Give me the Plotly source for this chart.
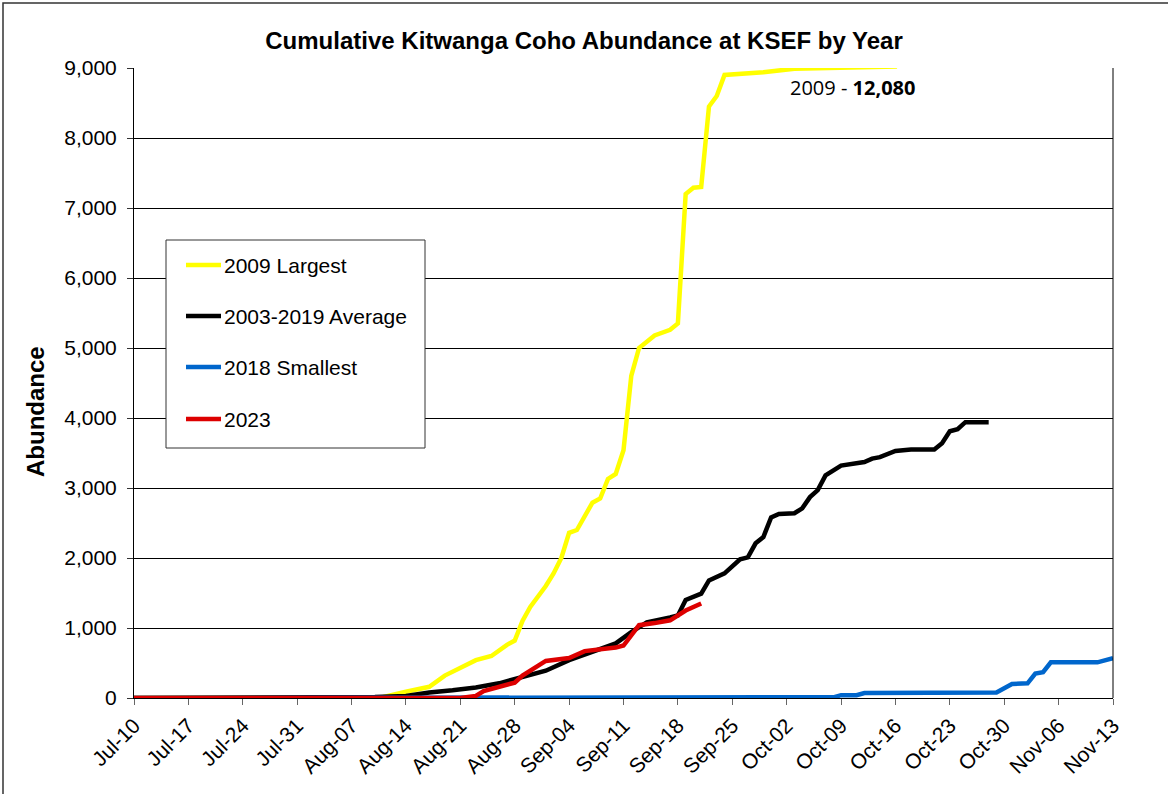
import plotly.graph_objects as go

# ---------------- data ----------------
tick_dates = ["2023-07-10", "2023-07-17", "2023-07-24", "2023-07-31", "2023-08-07",
              "2023-08-14", "2023-08-21", "2023-08-28", "2023-09-04", "2023-09-11",
              "2023-09-18", "2023-09-25", "2023-10-02", "2023-10-09", "2023-10-16",
              "2023-10-23", "2023-10-30", "2023-11-06", "2023-11-13"]
tick_labels = ["Jul-10", "Jul-17", "Jul-24", "Jul-31", "Aug-07", "Aug-14", "Aug-21",
               "Aug-28", "Sep-04", "Sep-11", "Sep-18", "Sep-25", "Oct-02", "Oct-09",
               "Oct-16", "Oct-23", "Oct-30", "Nov-06", "Nov-13"]

y2009_dates = ["2023-07-10", "2023-08-07", "2023-08-11", "2023-08-14", "2023-08-17",
               "2023-08-19", "2023-08-21", "2023-08-23", "2023-08-25", "2023-08-27",
               "2023-08-28", "2023-08-29", "2023-08-30", "2023-09-01", "2023-09-02",
               "2023-09-03", "2023-09-04", "2023-09-05", "2023-09-07", "2023-09-08",
               "2023-09-09", "2023-09-10", "2023-09-11", "2023-09-12", "2023-09-13",
               "2023-09-15", "2023-09-17", "2023-09-18", "2023-09-19", "2023-09-20",
               "2023-09-21", "2023-09-22", "2023-09-23", "2023-09-24", "2023-09-29",
               "2023-10-03", "2023-10-16", "2023-10-23", "2023-11-13"]
y2009_vals = [0, 0, 10, 90, 160, 320, 430, 540, 600, 760, 820, 1100, 1300, 1600, 1780,
              2000, 2360, 2400, 2790, 2850, 3130, 3200, 3540, 4600, 5000, 5180, 5260,
              5350, 7200, 7290, 7300, 8450, 8600, 8900, 8940, 8990, 9020, 10500, 12080]

avg_dates = ["2023-07-10", "2023-08-07", "2023-08-10", "2023-08-14", "2023-08-17",
             "2023-08-20", "2023-08-23", "2023-08-26", "2023-08-28", "2023-09-01",
             "2023-09-04", "2023-09-10", "2023-09-12", "2023-09-14", "2023-09-17",
             "2023-09-18", "2023-09-19", "2023-09-21", "2023-09-22", "2023-09-24",
             "2023-09-26", "2023-09-27", "2023-09-28", "2023-09-29", "2023-09-30",
             "2023-10-01", "2023-10-03", "2023-10-04", "2023-10-05", "2023-10-06",
             "2023-10-07", "2023-10-09", "2023-10-12", "2023-10-13", "2023-10-14",
             "2023-10-16", "2023-10-18", "2023-10-21", "2023-10-22", "2023-10-23",
             "2023-10-24", "2023-10-25", "2023-10-28"]
avg_vals = [0, 5, 15, 30, 80, 110, 150, 210, 270, 390, 540, 780, 940, 1080, 1150, 1180,
            1400, 1490, 1680, 1780, 1980, 2010, 2210, 2300, 2580, 2630, 2640, 2710, 2870,
            2970, 3180, 3320, 3370, 3420, 3440, 3530, 3550, 3550, 3640, 3810, 3840, 3940,
            3940]

y2018_dates = ["2023-07-10", "2023-10-08", "2023-10-09", "2023-10-11", "2023-10-12",
               "2023-10-19", "2023-10-20", "2023-10-29", "2023-10-31", "2023-11-02",
               "2023-11-03", "2023-11-04", "2023-11-05", "2023-11-11", "2023-11-13"]
y2018_vals = [0, 10, 40, 40, 70, 70, 80, 80, 200, 210, 350, 370, 510, 510, 570]

y2023_dates = ["2023-07-10", "2023-08-21", "2023-08-23", "2023-08-24", "2023-08-28",
               "2023-08-29", "2023-09-01", "2023-09-04", "2023-09-06", "2023-09-10",
               "2023-09-11", "2023-09-13", "2023-09-15", "2023-09-17", "2023-09-19",
               "2023-09-21"]
y2023_vals = [0, 0, 30, 100, 220, 320, 530, 570, 670, 720, 750, 1040, 1070, 1110, 1250,
              1350]

series = [
    ("2009 Largest", y2009_dates, y2009_vals, "#FFFF00"),
    ("2003-2019 Average", avg_dates, avg_vals, "#000000"),
    ("2018 Smallest", y2018_dates, y2018_vals, "#0066CC"),
    ("2023", y2023_dates, y2023_vals, "#DD0000"),
]

# ---------------- figure ----------------
W, H = 1168, 794
L, T = 134, 68
PW, PH = 979, 630
R, B = W - L - PW, H - T - PH


def px2x(px):
    return (px - L) / PW


def py2y(py):
    return (T + PH - py) / PH


fig = go.Figure()
for name, xs, ys, col in series:
    fig.add_trace(go.Scatter(x=xs, y=ys, mode="lines", name=name,
                             line=dict(color=col, width=4.5), showlegend=False))

fig.update_layout(
    width=W, height=H,
    margin=dict(l=L, r=R, t=T, b=B, pad=0),
    paper_bgcolor="white", plot_bgcolor="white",
    font=dict(family="Arial, Liberation Sans, sans-serif", color="black", size=21),
    title=dict(text="<b>Cumulative Kitwanga Coho Abundance at KSEF by Year</b>",
               x=0.5, xanchor="center", y=1 - 41 / H, yanchor="middle",
               font=dict(size=24)),
    xaxis=dict(type="date", range=[tick_dates[0], tick_dates[-1]],
               tickvals=tick_dates, ticktext=tick_labels, tickangle=-45,
               ticks="outside", ticklen=6, tickcolor="#666666",
               showline=True, linecolor="black", linewidth=1,
               showgrid=False, zeroline=False, tickfont=dict(size=21)),
    yaxis=dict(range=[0, 9000], dtick=1000, tickformat=",d",
               ticks="outside", ticklen=6, tickcolor="#333333",
               showline=True, linecolor="black", linewidth=1,
               showgrid=True, gridcolor="black", gridwidth=1,
               zeroline=False, tickfont=dict(size=21), ticklabelstandoff=6),
)

shapes = []
annotations = []

# outer chart border (left and top edges visible)
shapes.append(dict(type="rect", xref="paper", yref="paper",
                   x0=px2x(3), x1=px2x(1172), y0=py2y(800), y1=py2y(3),
                   line=dict(color="#333333", width=1.5), layer="below"))
# right plot border
shapes.append(dict(type="line", xref="paper", yref="paper", x0=1, x1=1, y0=0, y1=1,
                   line=dict(color="black", width=1)))

# y axis title
annotations.append(dict(text="<b>Abundance</b>", xref="paper", yref="paper",
                        x=px2x(35), y=py2y(412), xanchor="center", yanchor="middle",
                        textangle=-90, showarrow=False, font=dict(size=24)))

# manual legend
shapes.append(dict(type="rect", xref="paper", yref="paper",
                   x0=px2x(166), x1=px2x(425), y0=py2y(448), y1=py2y(240),
                   fillcolor="white", line=dict(color="#333333", width=1), layer="above"))
leg_y = [265, 316, 367, 419]
for (name, xs, ys, col), yy in zip(series, leg_y):
    shapes.append(dict(type="line", xref="paper", yref="paper",
                       x0=px2x(186), x1=px2x(221), y0=py2y(yy), y1=py2y(yy),
                       line=dict(color=col, width=4.5), layer="above"))
    annotations.append(dict(text=name, xref="paper", yref="paper",
                            x=px2x(222), y=py2y(yy), xanchor="left", yanchor="middle",
                            showarrow=False, font=dict(size=21)))

annotations.append(dict(text="2009 - <b>12,080</b>", xref="paper", yref="paper",
                        x=px2x(788), y=py2y(87), xanchor="left", yanchor="middle",
                        showarrow=False,
                        font=dict(family="Open Sans, Noto Sans, sans-serif", size=20)))

fig.update_layout(shapes=shapes, annotations=annotations)

fig.write_html("out.html",
               config={"displayModeBar": False},
               post_script="document.body.style.margin='0';"
                           "document.body.style.overflow='hidden';")
